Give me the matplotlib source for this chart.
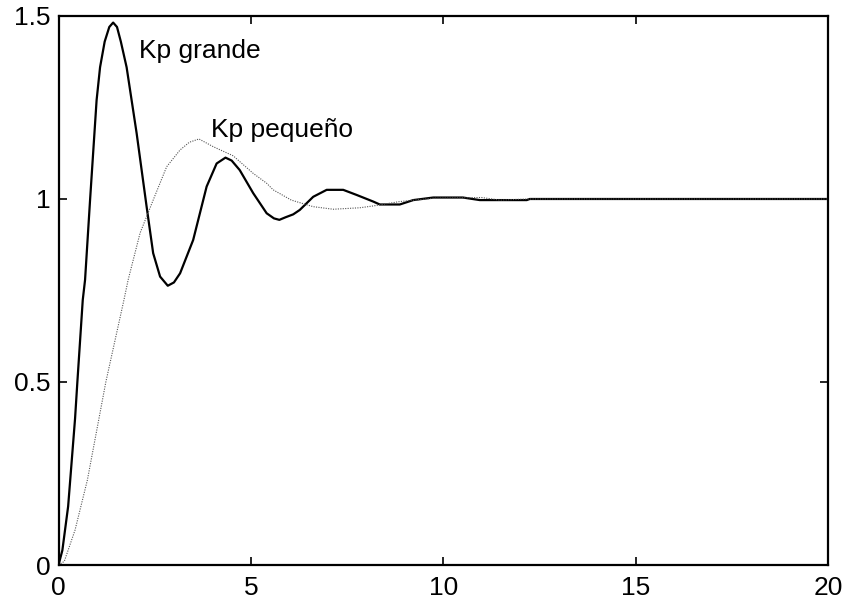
import matplotlib
matplotlib.use('Agg')
import matplotlib.pyplot as plt

# step response, large proportional gain
t_grande = [0.0, 0.1, 0.25, 0.43, 0.49, 0.63, 0.69, 0.82, 0.99, 1.08, 1.2, 1.32, 1.42,
            1.52, 1.62, 1.77, 2.03, 2.29, 2.46, 2.64, 2.84, 3.0, 3.16, 3.50, 3.85, 4.11, 4.34,
            4.5, 4.71, 5.06, 5.41, 5.6, 5.74, 5.9, 6.10, 6.27, 6.62, 6.97, 7.40, 7.75, 8.18, 8.35,
            8.87, 9.22, 9.74, 10.51, 10.95, 11.47, 12.17, 12.25, 20.0]
y_grande = [0.0, 0.04, 0.16, 0.40, 0.50, 0.724, 0.779, 0.997, 1.27, 1.36, 1.43, 1.47, 1.482,
            1.47, 1.43, 1.36, 1.18, 0.979, 0.852, 0.788, 0.763, 0.772, 0.797, 0.888, 1.034, 1.097, 1.113,
            1.105, 1.079, 1.016, 0.961, 0.947, 0.943, 0.950, 0.958, 0.970, 1.006, 1.025, 1.025, 1.011, 0.993, 0.985,
            0.985, 0.997, 1.004, 1.004, 0.997, 0.997, 0.997, 1.0, 1.0]

# step response, small proportional gain
t_pequeno = [0.0, 0.15, 0.43, 0.75, 1.23, 1.70, 1.81, 2.12, 2.46, 2.81, 3.16, 3.40,
             3.65, 4.02, 4.54, 5.06, 5.41, 5.58, 6.05, 6.62, 7.14, 7.83, 8.18, 8.87,
             9.74, 11.0, 11.47, 12.2, 20.0]
y_pequeno = [0.0, 0.01, 0.0956, 0.232, 0.50, 0.724, 0.779, 0.907, 0.997, 1.088, 1.134, 1.155,
             1.164, 1.143, 1.118, 1.070, 1.043, 1.025, 0.997, 0.979, 0.972, 0.976, 0.981, 0.993,
             1.002, 1.004, 0.997, 1.0, 1.0]

x_ticks = [0, 5, 10, 15, 20]
y_ticks = [0, 0.5, 1, 1.5]
y_tick_labels = ['0', '0.5', '1', '1.5']

plt.rcParams['font.family'] = ['Liberation Sans', 'DejaVu Sans']

fig = plt.figure(figsize=(8.48, 6.01), dpi=100)
ax = fig.add_axes([0.069, 0.0599, 0.9074, 0.9135])

ax.plot(t_grande, y_grande, color='black', lw=1.6)
ax.plot(t_pequeno, y_pequeno, color='#555555', lw=0.8, linestyle=(0, (1, 1.2)))

ax.text(2.08, 1.384, 'Kp grande', fontsize=19, va='baseline', ha='left')
ax.text(3.97, 1.170, 'Kp pequeño', fontsize=19, va='baseline', ha='left')

ax.set_xlim(0, 20)
ax.set_ylim(0, 1.5)
ax.set_xticks(x_ticks)
ax.set_yticks(y_ticks)
ax.set_yticklabels(y_tick_labels)
ax.tick_params(direction='in', length=6, width=1.2, labelsize=19,
               top=True, right=True)
ax.tick_params(axis='x', pad=8)
ax.tick_params(axis='y', pad=6)
for s in ax.spines.values():
    s.set_linewidth(1.6)

fig.savefig('out.png', dpi=100)
